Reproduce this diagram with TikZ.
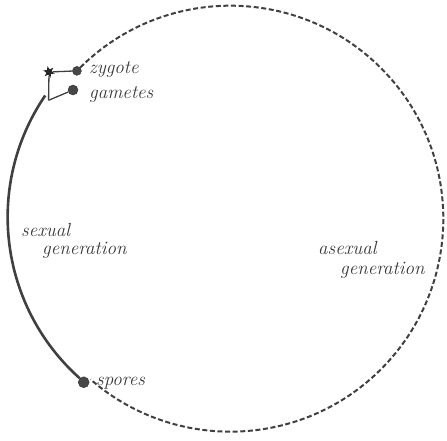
\documentclass[tikz,border=0pt]{standalone}
\usepackage{tikz}
\usetikzlibrary{shapes.geometric,calc}

\begin{document}
\begin{tikzpicture}[x=1pt,y=1pt,
		cell/.style={circle,fill=black!72,draw=black!80,inner sep=0pt,minimum size=10pt},
		lab/.style={text=black!78,font=\fontsize{19}{21}\selectfont\itshape,inner sep=0pt},
		cycle/.style={draw=black!75,line width=2pt,dash pattern=on 5pt off 2.6pt},
		stem/.style={draw=black!75,line width=2.6pt},
		twig/.style={draw=black!75,line width=1.3pt}]
		\useasboundingbox (0,0) rectangle (447,440);
		\coordinate (c) at (227,218);
		% the life cycle
		\coordinate (fork) at ($(c)+(145.7:216)$);
		\node[cell,minimum size=11pt] (spores) at ($(c)+(228.2:215)$) {};
		\node[cell,minimum size=9pt] (zygote) at ($(c)+(134.8:213)$) {};
		\node[cell] (gametes) at (73,350) {};
		\node[star,star points=6,star point ratio=2.2,fill=black!85,inner sep=0pt,minimum size=12pt,rotate=15] (fert) at (49,368) {};
		\draw[stem] (spores.north west) arc[start angle=228.2,end angle=145.7,radius=216];
		\draw[cycle] (zygote.north east) arc[start angle=134.8,end angle=-131,radius=213];
		\draw[twig] (fork) -- (gametes);
		\draw[twig] (fork) -- (fert);
		\draw[twig] (fert) -- (zygote);
		% labels
		\node[lab,anchor=west] (lzyg) at (89,370) {zygote};
		\node[lab,anchor=west] (lgam) at (89,345) {gametes};
		\node[lab,anchor=west] (lsex) at (21,210) {sexual};
		\node[lab,anchor=west] (lsexg) at (42,190) {generation};
		\node[lab,anchor=west] (lasex) at (318,192) {asexual};
		\node[lab,anchor=west] (lasexg) at (340,170) {generation};
		\node[lab,anchor=west] (lspo) at (96,57) {spores};
	\end{tikzpicture}
\end{document}
